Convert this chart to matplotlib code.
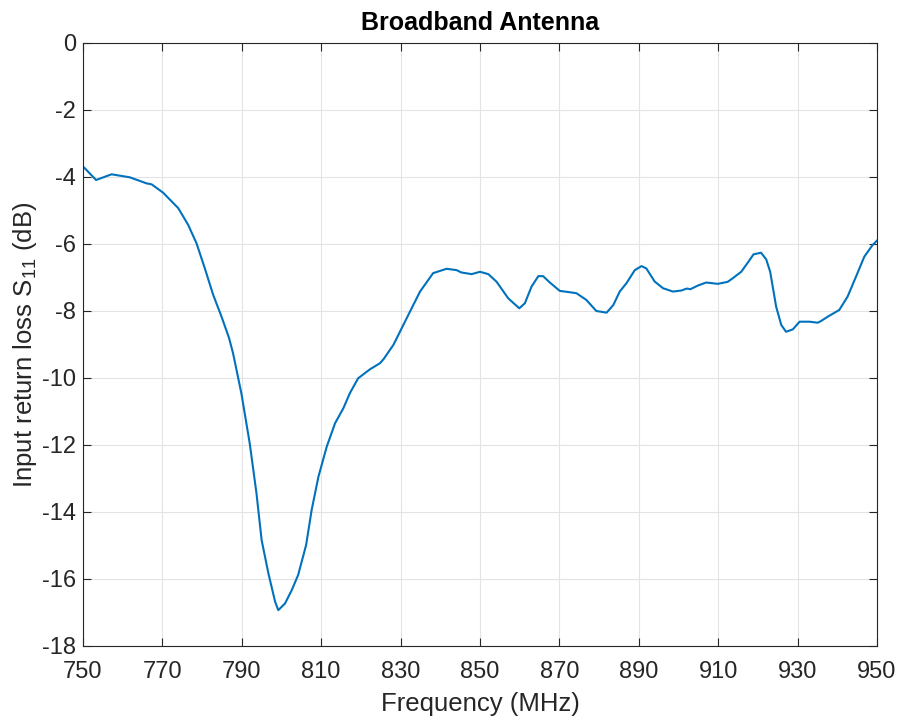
import matplotlib
matplotlib.use("Agg")
import matplotlib.pyplot as plt
import numpy as np

freq_mhz = [750.0, 750.3, 753.3, 757.2, 761.8, 766.0, 767.3, 770.2, 774.0, 776.5,
            778.6, 780.7, 782.8, 784.9, 786.8, 787.8, 789.9, 792.0, 793.7, 795.0,
            796.7, 798.4, 799.2, 800.9, 802.6, 804.2, 806.2, 807.6, 809.3, 811.4,
            813.5, 815.6, 817.2, 819.3, 822.3, 824.8, 825.7, 828.2, 831.1, 834.9,
            838.2, 841.6, 844.1, 845.3, 847.9, 850.0, 852.1, 854.2, 857.1, 859.9,
            861.3, 863.0, 864.7, 865.9, 867.6, 870.1, 872.6, 874.3, 876.8, 879.3,
            881.9, 883.6, 885.2, 886.9, 889.0, 890.7, 891.9, 894.0, 896.1, 898.6,
            900.7, 902.1, 903.0, 904.9, 907.0, 909.9, 912.4, 913.7, 915.8, 917.5,
            918.9, 920.8, 922.1, 923.1, 924.6, 925.9, 927.1, 928.8, 930.5, 933.0,
            935.1, 935.9, 937.6, 940.5, 942.6, 944.7, 946.8, 948.9, 950.0]
s11_db = [-3.70, -3.72, -4.09, -3.92, -4.01, -4.19, -4.22, -4.47, -4.93, -5.43,
          -5.98, -6.73, -7.52, -8.17, -8.81, -9.26, -10.46, -11.95, -13.44, -14.84,
          -15.83, -16.68, -16.93, -16.73, -16.33, -15.88, -14.99, -13.94, -12.95, -12.05,
          -11.35, -10.90, -10.46, -10.01, -9.74, -9.56, -9.44, -9.01, -8.32, -7.42,
          -6.87, -6.74, -6.78, -6.85, -6.90, -6.83, -6.90, -7.13, -7.62, -7.92,
          -7.77, -7.27, -6.96, -6.96, -7.15, -7.40, -7.44, -7.47, -7.67, -8.00,
          -8.05, -7.82, -7.42, -7.17, -6.78, -6.66, -6.73, -7.12, -7.32, -7.42,
          -7.39, -7.33, -7.35, -7.24, -7.15, -7.19, -7.13, -7.02, -6.83, -6.55,
          -6.31, -6.26, -6.46, -6.83, -7.87, -8.42, -8.62, -8.55, -8.32, -8.32,
          -8.35, -8.30, -8.17, -7.97, -7.57, -6.98, -6.38, -6.03, -5.90]

x_ticks = list(range(750, 951, 20))
y_ticks = list(range(-18, 1, 2))

plt.rcParams['font.family'] = ['Liberation Sans', 'DejaVu Sans']
plt.rcParams['mathtext.fontset'] = 'custom'
plt.rcParams['mathtext.rm'] = 'Liberation Sans'
plt.rcParams['mathtext.it'] = 'Liberation Sans'
plt.rcParams['axes.unicode_minus'] = False

fig = plt.figure(figsize=(8.99, 7.2), dpi=100)
ax = fig.add_axes([0.0923, 0.1028, 0.8832, 0.8375])

ax.plot(freq_mhz, s11_db, color='#0072BD', linewidth=1.5)

ax.set_xlim(750, 950)
ax.set_ylim(-18, 0)
ax.set_xticks(x_ticks)
ax.set_yticks(y_ticks)
ax.tick_params(direction='in', length=5.8, width=0.8, colors='#262626',
               labelsize=17, top=True, right=True)
ax.tick_params(axis='x', pad=11)
ax.tick_params(axis='y', pad=5)
ax.grid(True, color='#e3e3e3', linewidth=0.8)
ax.set_axisbelow(True)
for sp in ax.spines.values():
    sp.set_color('#262626')
    sp.set_linewidth(0.8)

ax.set_title('Broadband Antenna', fontsize=18, fontweight='bold', pad=9)
ax.set_xlabel('Frequency (MHz)', fontsize=18.5, color='#262626', labelpad=6)
ax.set_ylabel('Input return loss S$_{11}$ (dB)', fontsize=18.5, color='#262626',
              labelpad=2)

fig.savefig('out.png', dpi=100)
